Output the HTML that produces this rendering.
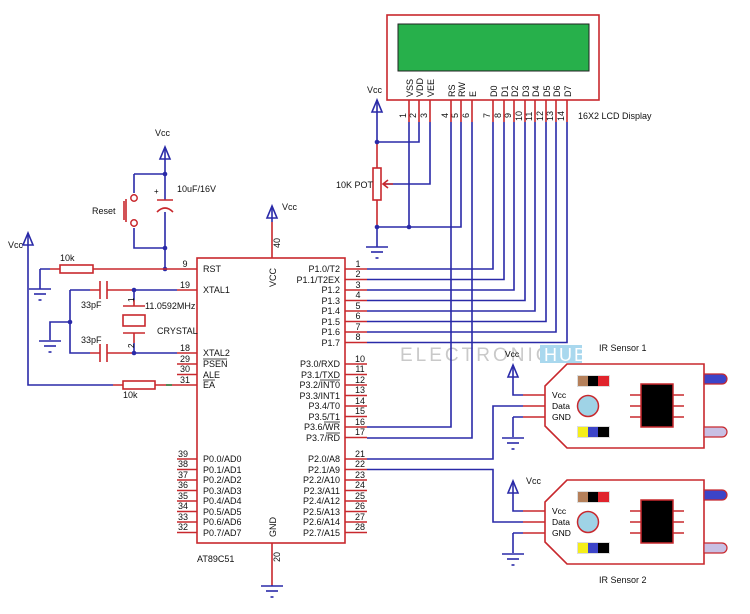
<!DOCTYPE html>
<html><head><meta charset="utf-8"><style>
html,body{margin:0;padding:0;background:#fff;}
svg{display:block;font-family:"Liberation Sans",sans-serif;}
.b{stroke:#2a2aa8;stroke-width:1.6;fill:none}
.r{stroke:#c8282d;stroke-width:1.6;fill:none}
.t{font-size:9.5px;fill:#111}
.s{font-size:9px;fill:#111}
</style></head><body>
<svg width="750" height="614" viewBox="0 0 750 614" xmlns="http://www.w3.org/2000/svg">
<defs>
<g id="vcc"><path class="b" d="M0 0 L-5 12 L5 12 Z M-5 12 L5 12"/><line class="b" x1="0" y1="0" x2="0" y2="12"/></g>
<g id="gnd"><line class="b" x1="-11" y1="0" x2="11" y2="0"/><line class="b" x1="-6" y1="5" x2="6" y2="5"/><line class="b" x1="-1.5" y1="11" x2="1.5" y2="11"/></g>
</defs>

<!-- watermark -->
<text x="400" y="361" font-size="19" fill="#c9c9c9" letter-spacing="3">ELECTRONICS</text>
<rect x="540" y="345" width="42" height="18" fill="#a9d8ee"/>
<text x="544" y="361" font-size="18" fill="#fff" letter-spacing="2">HUB</text>

<!-- LCD -->
<rect x="387" y="15" width="212" height="85" fill="#fff" stroke="#c8282d" stroke-width="1.6"/>
<rect x="398" y="24" width="191" height="47" fill="#27b04b" stroke="#222" stroke-width="1"/>
<g class="s">
<text transform="translate(413,97) rotate(-90)">VSS</text>
<text transform="translate(423,97) rotate(-90)">VDD</text>
<text transform="translate(434,97) rotate(-90)">VEE</text>
<text transform="translate(455,97) rotate(-90)">RS</text>
<text transform="translate(465,97) rotate(-90)">RW</text>
<text transform="translate(476,97) rotate(-90)">E</text>
<text transform="translate(497,97) rotate(-90)">D0</text>
<text transform="translate(508,97) rotate(-90)">D1</text>
<text transform="translate(518,97) rotate(-90)">D2</text>
<text transform="translate(529,97) rotate(-90)">D3</text>
<text transform="translate(539,97) rotate(-90)">D4</text>
<text transform="translate(550,97) rotate(-90)">D5</text>
<text transform="translate(560,97) rotate(-90)">D6</text>
<text transform="translate(571,97) rotate(-90)">D7</text>
<text transform="translate(406,118) rotate(-90)">1</text>
<text transform="translate(416,118) rotate(-90)">2</text>
<text transform="translate(427,118) rotate(-90)">3</text>
<text transform="translate(448,118) rotate(-90)">4</text>
<text transform="translate(458,118) rotate(-90)">5</text>
<text transform="translate(469,118) rotate(-90)">6</text>
<text transform="translate(490,118) rotate(-90)">7</text>
<text transform="translate(501,118) rotate(-90)">8</text>
<text transform="translate(511,118) rotate(-90)">9</text>
<text transform="translate(522,121) rotate(-90)">10</text>
<text transform="translate(532,121) rotate(-90)">11</text>
<text transform="translate(543,121) rotate(-90)">12</text>
<text transform="translate(553,121) rotate(-90)">13</text>
<text transform="translate(564,121) rotate(-90)">14</text>
</g>
<text x="578" y="119" class="s">16X2 LCD Display</text>
<path class="r" d="M409 100V122M419 100V122M430 100V122M451 100V122M461 100V122M472 100V122M493 100V122M504 100V122M514 100V122M525 100V122M535 100V122M546 100V122M556 100V122M567 100V122"/>
<path class="b" d="M409 122V227M419 122V142H377M430 122V184H385M461 122V227H377M451 122V427H367M472 122V438H367
M493 122V269H367M504 122V279.5H367M514 122V290H367M525 122V300.5H367M535 122V311H367M546 122V321.5H367M556 122V332H367M567 122V342.5H367"/>
<!-- Pot -->
<text x="367" y="93" class="s">Vcc</text>
<use href="#vcc" x="377" y="100"/>
<path class="b" d="M377 112V142"/>
<path class="r" d="M377 142V168M377 200V227"/>
<rect x="373" y="168" width="8" height="32" fill="#fff" stroke="#c8282d" stroke-width="1.6"/>
<path class="r" d="M393 184H383M388 180L383 184L388 188"/>
<path class="b" d="M377 227V247"/>
<use href="#gnd" x="377" y="247"/>
<circle cx="377" cy="142" r="2.3" fill="#2a2aa8"/><circle cx="377" cy="227" r="2.3" fill="#2a2aa8"/><circle cx="409" cy="227" r="2.3" fill="#2a2aa8"/>
<text x="336" y="188" class="s">10K POT</text>

<!-- IC -->
<rect x="197" y="258" width="148" height="285" fill="#fff" stroke="#c8282d" stroke-width="1.6"/>
<path class="r" d="M272 258V222M272 543V585"/>
<path class="b" d="M272 222V218"/>
<use href="#vcc" x="272" y="206"/>
<text x="282" y="210" class="s">Vcc</text>
<text transform="translate(280,248) rotate(-90)" class="s">40</text>
<text transform="translate(280,562) rotate(-90)" class="s">20</text>
<text transform="translate(276,287) rotate(-90)" class="s">VCC</text>
<text transform="translate(276,537) rotate(-90)" class="s">GND</text>
<path class="b" d="M272 585V586"/>
<use href="#gnd" x="272" y="586"/>
<text x="197" y="562" class="s">AT89C51</text>

<path class="r" d="M345 269H367M345 279.5H367M345 290H367M345 300.5H367M345 311H367M345 321.5H367M345 332H367M345 342.5H367
M345 364H367M345 374.5H367M345 385H367M345 395.5H367M345 406H367M345 416.5H367M345 427H367M345 437.5H367
M345 459H367M345 469.5H367M345 480H367M345 490.5H367M345 501H367M345 511.5H367M345 522H367M345 532.5H367"/>
<g class="s" text-anchor="middle">
<text x="358" y="267">1</text><text x="358" y="277">2</text><text x="358" y="288">3</text><text x="358" y="298">4</text><text x="358" y="309">5</text><text x="358" y="319">6</text><text x="358" y="330">7</text><text x="358" y="340">8</text>
<text x="360" y="362">10</text><text x="360" y="372">11</text><text x="360" y="383">12</text><text x="360" y="393">13</text><text x="360" y="404">14</text><text x="360" y="414">15</text><text x="360" y="425">16</text><text x="360" y="435">17</text>
<text x="360" y="457">21</text><text x="360" y="467">22</text><text x="360" y="478">23</text><text x="360" y="488">24</text><text x="360" y="499">25</text><text x="360" y="509">26</text><text x="360" y="520">27</text><text x="360" y="530">28</text>
</g>
<g class="s" text-anchor="end">
<text x="340" y="272">P1.0/T2</text><text x="340" y="283">P1.1/T2EX</text><text x="340" y="293">P1.2</text><text x="340" y="304">P1.3</text><text x="340" y="314">P1.4</text><text x="340" y="325">P1.5</text><text x="340" y="335">P1.6</text><text x="340" y="346">P1.7</text>
<text x="340" y="367">P3.0/RXD</text><text x="340" y="378">P3.1/TXD</text><text x="340" y="388">P3.2/INT0</text><text x="340" y="399">P3.3/INT1</text><text x="340" y="409">P3.4/T0</text><text x="340" y="420">P3.5/T1</text><text x="340" y="430">P3.6/WR</text><text x="340" y="441">P3.7/RD</text>
<text x="340" y="462">P2.0/A8</text><text x="340" y="473">P2.1/A9</text><text x="340" y="483">P2.2/A10</text><text x="340" y="494">P2.3/A11</text><text x="340" y="504">P2.4/A12</text><text x="340" y="515">P2.5/A13</text><text x="340" y="525">P2.6/A14</text><text x="340" y="536">P2.7/A15</text>
</g>
<path stroke="#111" stroke-width="0.8" d="M320 380H340M324 422H340M326 433H340"/>
<path class="r" d="M177 269H197M177 290H197M177 353H197M177 364H197M177 374.5H197M177 385H197
M177 459H197M177 469.5H197M177 480H197M177 490.5H197M177 501H197M177 511.5H197M177 522H197M177 532.5H197"/>
<g class="s" text-anchor="middle">
<text x="185" y="267">9</text><text x="185" y="288">19</text><text x="185" y="351">18</text><text x="185" y="362">29</text><text x="185" y="372">30</text><text x="185" y="383">31</text>
<text x="183" y="457">39</text><text x="183" y="467">38</text><text x="183" y="478">37</text><text x="183" y="488">36</text><text x="183" y="499">35</text><text x="183" y="509">34</text><text x="183" y="520">33</text><text x="183" y="530">32</text>
</g>
<g class="s">
<text x="203" y="272">RST</text><text x="203" y="293">XTAL1</text><text x="203" y="356">XTAL2</text><text x="203" y="367">PSEN</text><text x="203" y="378">ALE</text><text x="203" y="388">EA</text>
<text x="203" y="462">P0.0/AD0</text><text x="203" y="473">P0.1/AD1</text><text x="203" y="483">P0.2/AD2</text><text x="203" y="494">P0.3/AD3</text><text x="203" y="504">P0.4/AD4</text><text x="203" y="515">P0.5/AD5</text><text x="203" y="525">P0.6/AD6</text><text x="203" y="536">P0.7/AD7</text>
</g>
<path stroke="#111" stroke-width="0.8" d="M203 359H227M203 380H215"/>

<!-- reset section -->
<use href="#vcc" x="165" y="147"/>
<text x="155" y="136" class="s">Vcc</text>
<path class="b" d="M165 159V200M165 212V269M134 174H165V174M134 174V193M134 228V248H165M40 269H50M40 269V289M134 290V300M134 343V353"/>
<circle cx="134" cy="198" r="3.2" fill="#fff" stroke="#c8282d" stroke-width="1.5"/>
<circle cx="134" cy="223" r="3.2" fill="#fff" stroke="#c8282d" stroke-width="1.5"/>
<path class="r" d="M126 199V222M124 201V220M134 194V195M134 226V227M157 200H173M157 212Q165 204 173 212"/>
<text x="154" y="194" font-size="8">+</text>
<text x="177" y="192" class="s">10uF/16V</text>
<text x="92" y="214" class="s">Reset</text>
<circle cx="165" cy="174" r="2.3" fill="#2a2aa8"/><circle cx="165" cy="248" r="2.3" fill="#2a2aa8"/><circle cx="165" cy="269" r="2.3" fill="#2a2aa8"/>
<path class="r" d="M50 269H60M93 269H177"/>
<rect x="60" y="265" width="33" height="8" fill="#fff" stroke="#c8282d" stroke-width="1.6"/>
<text x="60" y="261" class="s">10k</text>
<use href="#gnd" x="40" y="289"/>
<path class="b" d="M70 290H90M70 290V353H90M70 322H50V340M134 290H177M134 353H177"/>
<path class="r" d="M90 290H100M107 290H134M100 281V299M107 281V299M90 353H100M107 353H134M100 344V362M107 344V362M134 300V306M134 333V343M123 306H145M123 333H145"/>
<rect x="123" y="315" width="22" height="11" fill="#fff" stroke="#c8282d" stroke-width="1.6"/>
<use href="#gnd" x="50" y="341"/>
<circle cx="70" cy="322" r="2.3" fill="#2a2aa8"/><circle cx="134" cy="290" r="2.3" fill="#2a2aa8"/><circle cx="134" cy="353" r="2.3" fill="#2a2aa8"/>
<text x="81" y="308" class="s">33pF</text><text x="81" y="343" class="s">33pF</text>
<text x="145" y="309" class="s">11.0592MHz</text><text x="157" y="334" class="s">CRYSTAL</text>
<text transform="translate(134,302) rotate(-90)" font-size="8">1</text>
<text transform="translate(134,348) rotate(-90)" font-size="8">2</text>
<use href="#vcc" x="28" y="233"/>
<text x="8" y="248" class="s">Vcc</text>
<path class="b" d="M28 245V385H113"/>
<path class="r" d="M113 385H123M155 385H166M172 385H177"/>
<path stroke="#2a6a2a" stroke-width="1.6" d="M166 385H172"/>
<rect x="123" y="381" width="32" height="8" fill="#fff" stroke="#c8282d" stroke-width="1.6"/>
<text x="123" y="398" class="s">10k</text>

<path class="b" d="M367 459H493V406H523M367 469.5H493V522H523"/>

<g id="sen">
<use href="#vcc" x="513" y="365"/>
<path class="b" d="M513 377V395H523M513 417H523V417M513 417V437"/>
<use href="#gnd" x="513" y="438"/>
<path class="r" d="M523 395H545M523 406H545M523 417H545"/>
<path d="M567 364H704V448H567L545 426V386Z" fill="#fff" stroke="#c8282d" stroke-width="1.6"/>
<text x="552" y="398" font-size="8.5">Vcc</text><text x="552" y="409" font-size="8.5">Data</text><text x="552" y="420" font-size="8.5">GND</text>
<rect x="577" y="375" width="33" height="12" fill="#ddd"/>
<rect x="578" y="376" width="10" height="10" fill="#b5805a"/><rect x="588" y="376" width="10" height="10" fill="#000"/><rect x="598" y="376" width="11" height="10" fill="#e0242c"/>
<rect x="577" y="426" width="33" height="12" fill="#ddd"/>
<rect x="578" y="427" width="10" height="10" fill="#f4ee1a"/><rect x="588" y="427" width="10" height="10" fill="#3c44c8"/><rect x="598" y="427" width="11" height="10" fill="#000"/>
<circle cx="588" cy="406" r="10.5" fill="#9fd3e6" stroke="#c8282d" stroke-width="1.5"/>
<path class="r" d="M630 395H684M630 406H684M630 417H684"/>
<rect x="641" y="384" width="32" height="43" fill="#000" stroke="#c8282d" stroke-width="1.5"/>
<path d="M704 374H722A5 5 0 0 1 722 384H704Z" fill="#3c44c8" stroke="#c8282d" stroke-width="1.2"/>
<path d="M704 427H722A5 5 0 0 1 722 437H704Z" fill="#c8c0e4" stroke="#c8282d" stroke-width="1.2"/>
</g>
<text x="505" y="357" font-size="8.5">Vcc</text>
<text x="599" y="351" class="s">IR Sensor 1</text>
<use href="#sen" x="0" y="116"/>
<text x="526" y="484" class="s">Vcc</text>
<text x="599" y="583" class="s">IR Sensor 2</text>
</svg>
</body></html>
